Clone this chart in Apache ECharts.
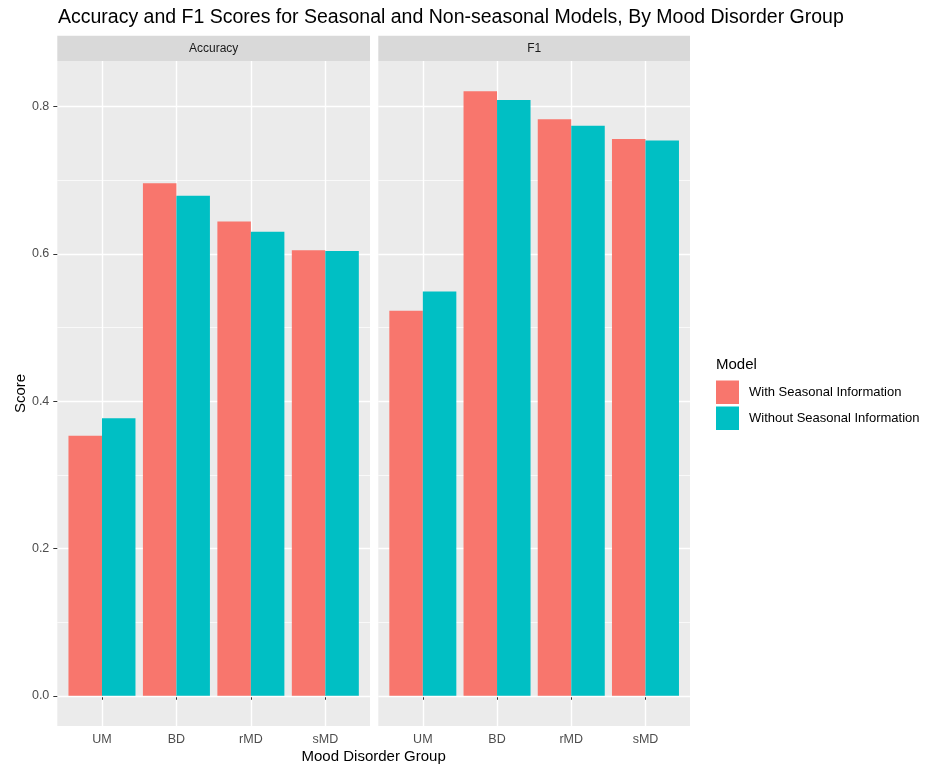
<!DOCTYPE html>
<html>
<head>
<meta charset="utf-8">
<script src="https://cdn.jsdelivr.net/npm/echarts@6/dist/echarts.min.js"></script>
<style>
  html, body { margin: 0; padding: 0; background: #fff; }
  #chart { width: 926px; height: 767px; }
</style>
</head>
<body>
<div id="chart"></div>
<script>
// Mood disorder groups and model scores
const groups = ['UM', 'BD', 'rMD', 'sMD'];
const accuracyWith = [0.353, 0.696, 0.644, 0.605];
const accuracyWithout = [0.377, 0.679, 0.630, 0.604];
const f1With = [0.523, 0.821, 0.783, 0.756];
const f1Without = [0.549, 0.809, 0.774, 0.754];
const facetNames = ['Accuracy', 'F1'];
const seriesNames = ['With Seasonal Information', 'Without Seasonal Information'];
const yTicks = [0, 0.2, 0.4, 0.6, 0.8];
const yMinorTicks = [0.1, 0.3, 0.5, 0.7];

const FONT = 'Liberation Sans, Arial, sans-serif';
const RED = '#F8766D', CYAN = '#00BFC4';

// ggplot-style 5% expansion of the continuous scale
const allVals = accuracyWith.concat(accuracyWithout, f1With, f1Without, [0]);
const maxVal = Math.max.apply(null, allVals);
const pad = 0.05 * maxVal;
const yMin = -pad, yMax = maxVal + pad;

const xPos = groups.map((g, i) => i + 1);
const toPairs = arr => arr.map((v, i) => [xPos[i], v]);

const panels = [
  { left: 57.3, width: 312.7 },
  { left: 378.3, width: 311.7 }
];
const gridTop = 61, gridHeight = 665;

const chart = echarts.init(document.getElementById('chart'), null, { renderer: 'canvas' });

const grids = panels.map(p => ({
  left: p.left, top: gridTop, width: p.width, height: gridHeight,
  show: true, backgroundColor: '#EBEBEB', borderWidth: 0, containLabel: false
}));

const xAxes = panels.map((p, k) => ({
  type: 'value', gridIndex: k, min: 0.4, max: 4.6,
  axisLine: { show: false },
  axisTick: { show: true, length: 4, lineStyle: { color: '#333333', width: 1 }, customValues: xPos },
  axisLabel: {
    customValues: xPos, margin: 7, color: '#4D4D4D', fontSize: 12.5, fontFamily: FONT,
    formatter: v => groups[Math.round(v) - 1] || ''
  },
  splitLine: { show: true, lineStyle: { color: '#FFFFFF', width: 1.4 }, customValues: xPos }
}));

const yAxes = [];
panels.forEach((p, k) => {
  // major gridlines and tick labels
  yAxes.push({
    type: 'value', gridIndex: k, min: yMin, max: yMax,
    name: k === 0 ? 'Score' : '', nameLocation: 'middle', nameRotate: 90, nameGap: 29,
    nameTextStyle: { fontSize: 15, color: '#000', fontFamily: FONT },
    axisLine: { show: false },
    axisTick: { show: k === 0, length: 4, lineStyle: { color: '#333333', width: 1 }, customValues: yTicks },
    axisLabel: {
      show: k === 0, customValues: yTicks, margin: 8, color: '#4D4D4D', fontSize: 12.5, fontFamily: FONT,
      formatter: v => v.toFixed(1)
    },
    splitLine: { show: true, lineStyle: { color: '#FFFFFF', width: 1.4 }, customValues: yTicks },
    z: 1
  });
});
panels.forEach((p, k) => {
  // minor gridlines
  yAxes.push({
    type: 'value', gridIndex: k, min: yMin, max: yMax, position: 'left',
    axisLine: { show: false },
    axisTick: { show: false, customValues: yMinorTicks },
    axisLabel: { show: false, customValues: yMinorTicks },
    splitLine: { show: true, lineStyle: { color: '#FFFFFF', width: 0.7 }, customValues: yMinorTicks },
    z: 0
  });
});

const facetData = [[accuracyWith, accuracyWithout], [f1With, f1Without]];
const series = [];
facetData.forEach((pair, k) => {
  pair.forEach((arr, j) => {
    series.push({
      name: seriesNames[j], type: 'bar', xAxisIndex: k, yAxisIndex: k,
      data: toPairs(arr), barWidth: 33.5, barGap: '0%',
      itemStyle: { color: j === 0 ? RED : CYAN },
      emphasis: { disabled: true }, silent: true, z: 3
    });
  });
});

const graphics = [];
panels.forEach((p, k) => {
  graphics.push({
    type: 'rect', shape: { x: p.left, y: 35.7, width: p.width, height: 25.3 },
    style: { fill: '#D9D9D9' }, silent: true
  });
  graphics.push({
    type: 'text', x: p.left + p.width / 2, y: 48.5,
    style: { text: facetNames[k], fill: '#1A1A1A', font: '12px ' + FONT, align: 'center', verticalAlign: 'middle' },
    silent: true
  });
});
graphics.push({
  type: 'text', x: (panels[0].left + panels[1].left + panels[1].width) / 2, y: 757,
  style: { text: 'Mood Disorder Group', fill: '#000', font: '15px ' + FONT, align: 'center', verticalAlign: 'middle' },
  silent: true
});

chart.setOption({
  animation: false,
  backgroundColor: '#FFFFFF',
  title: [
    { text: 'Accuracy and F1 Scores for Seasonal and Non-seasonal Models, By Mood Disorder Group',
      left: 58, top: 8, padding: 0,
      textStyle: { fontSize: 19.5, fontWeight: 'normal', color: '#000', fontFamily: FONT } },
    { text: 'Model', left: 716, top: 357, padding: 0,
      textStyle: { fontSize: 15, fontWeight: 'normal', color: '#000', fontFamily: FONT } }
  ],
  legend: {
    orient: 'vertical', left: 716, top: 380.5, padding: 0, itemWidth: 23, itemHeight: 23.5, itemGap: 2.5,
    icon: 'rect', selectedMode: false,
    data: seriesNames,
    textStyle: { fontSize: 13, color: '#000', fontFamily: FONT, padding: [0, 0, 0, 5] }
  },
  grid: grids,
  xAxis: xAxes,
  yAxis: yAxes,
  series: series,
  graphic: graphics
});
</script>
</body>
</html>
